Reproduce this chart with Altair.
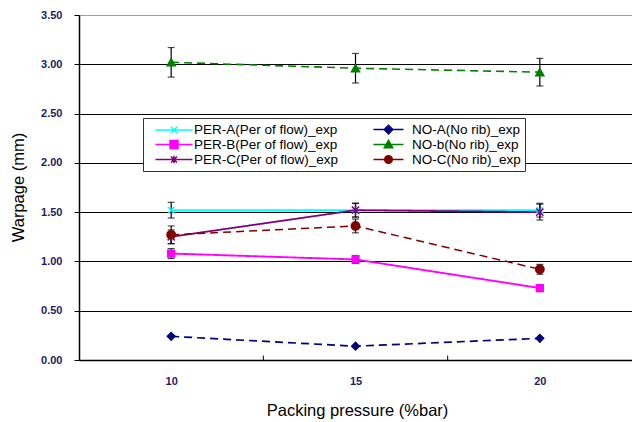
import altair as alt
import pandas as pd

# Series and their measured warpage at each packing pressure
pressure = [10, 15, 20]
series = [
    "PER-A(Per of flow)_exp",
    "PER-B(Per of flow)_exp",
    "PER-C(Per of flow)_exp",
    "NO-A(No rib)_exp",
    "NO-b(No rib)_exp",
    "NO-C(No rib)_exp",
]
warpage = {
    "PER-A(Per of flow)_exp": [1.52, 1.52, 1.52],
    "PER-B(Per of flow)_exp": [1.08, 1.02, 0.73],
    "PER-C(Per of flow)_exp": [1.25, 1.52, 1.50],
    "NO-A(No rib)_exp": [0.24, 0.14, 0.22],
    "NO-b(No rib)_exp": [3.02, 2.96, 2.92],
    "NO-C(No rib)_exp": [1.27, 1.36, 0.92],
}
error = {
    "PER-A(Per of flow)_exp": [0.08, 0.07, 0.07],
    "PER-B(Per of flow)_exp": [0.05, 0.04, 0.0],
    "PER-C(Per of flow)_exp": [0.07, 0.07, 0.08],
    "NO-A(No rib)_exp": [0.0, 0.0, 0.0],
    "NO-b(No rib)_exp": [0.15, 0.15, 0.14],
    "NO-C(No rib)_exp": [0.09, 0.07, 0.05],
}
colors = ["#00ffff", "#ff00ff", "#800080", "#000080", "#008000", "#800000"]
dashes = [[1, 0], [1, 0], [1, 0], [8, 5], [8, 5], [8, 5]]
widths = [2, 1.5, 1.5, 1.5, 1.5, 1.5]
tick_positions = [12.5, 17.5]

# Marker shapes for the plotted points
point_shapes = [
    "M-1,-1L1,1M-1,1L1,-1",
    "square",
    "M-1,-1L1,1M-1,1L1,-1M0,-1.3V1.3",
    "diamond",
    "triangle-up",
    "circle",
]
point_sizes = [40, 70, 40, 90, 80, 80]

# Legend symbols: a line segment with the marker on it, given in pixels
# relative to the legend symbol centre and converted to symbol units.
SYM_SIZE = 169            # 13 px symbol box
UNIT = 6.5                # px per symbol unit
CENTER = 7.5              # symbol centre from the entry origin (px)


def u(px):
    return round(px / UNIT, 3)


def legend_path(x0, x1, marker):
    xm = (x0 + x1) / 2 - CENTER
    a, b = u(x0 - CENTER), u(x1 - CENTER)
    line = f"M{a},0H{b}"
    r = u(4)
    m = u(xm)
    if marker == "x":
        k = u(3.2)
        mk = f"M{m - k},{-k}L{m + k},{k}M{m - k},{k}L{m + k},{-k}"
    elif marker == "star":
        k = u(3)
        mk = f"M{m - k},{-k}L{m + k},{k}M{m - k},{k}L{m + k},{-k}M{m},{-u(3.8)}V{u(3.8)}"
    elif marker == "square":
        mk = f"M{m - r},{-r}H{m + r}V{r}H{m - r}Z"
    elif marker == "diamond":
        d = u(4.3)
        mk = f"M{m},{-d}L{m + d},0L{m},{d}L{m - d},0Z"
    elif marker == "triangle":
        t = u(4.2)
        mk = f"M{m},{-t}L{m + t},{u(3.3)}H{m - t}Z"
    else:
        c = u(3.8)
        mk = f"M{m - c},0A{c},{c} 0 1,1 {m + c},0A{c},{c} 0 1,1 {m - c},0Z"
    return line + mk


# Legend is filled row by row in two columns: PER-* left, NO-* right
legend_order = [0, 3, 1, 4, 2, 5]
legend_markers = ["x", "square", "star", "diamond", "triangle", "circle"]
legend_spans = [(8.5, 45.5)] * 3 + [(8.5, 38.5)] * 3
legend_domain = [series[i] for i in legend_order]
legend_colors = [colors[i] for i in legend_order]
legend_shapes = [legend_path(*legend_spans[i], legend_markers[i]) for i in legend_order]

rows = []
for s in series:
    for p, v, e in zip(pressure, warpage[s], error[s]):
        rows.append({"pressure": p, "series": s, "warpage": v, "err": e})
df = pd.DataFrame(rows)

label_color = "#1c1c66"
font = "Liberation Sans"

x_enc = alt.X(
    "pressure:Q",
    scale=alt.Scale(domain=[7.5, 22.5], nice=False, zero=False),
    axis=alt.Axis(
        values=pressure,
        format="d",
        grid=False,
        ticks=False,
        domainColor="black",
        domainWidth=1.5,
        labelFont=font,
        labelFontSize=11,
        labelFontWeight="bold",
        labelColor=label_color,
        labelPadding=15,
        title="Packing pressure (%bar)",
        titleFont=font,
        titleFontSize=16.5,
        titleFontWeight="normal",
        titleColor="black",
        titleX=278,
        titleY=50,
        titleBaseline="middle",
    ),
)
y_enc = alt.Y(
    "warpage:Q",
    scale=alt.Scale(domain=[0, 3.5], nice=False),
    axis=alt.Axis(
        values=[0, 0.5, 1.0, 1.5, 2.0, 2.5, 3.0, 3.5],
        format=".2f",
        grid=True,
        gridColor={"condition": {"test": "datum.value === 3.5", "value": "#a0a0a0"}, "value": "black"},
        gridOpacity=1,
        gridWidth=1.2,
        domainColor="black",
        domainWidth=1.5,
        tickColor="black",
        tickSize=5,
        labelFont=font,
        labelFontSize=11,
        labelFontWeight="bold",
        labelColor=label_color,
        labelPadding=12,
        title="Warpage (mm)",
        titleFont=font,
        titleFontSize=16.5,
        titleFontWeight="normal",
        titleColor="black",
        titleX=-61,
        titleY=172,
        titleAngle=-90,
        titleBaseline="middle",
        titleAlign="center",
    ),
)

base = alt.Chart(df)

lines = base.mark_line().encode(
    x=x_enc,
    y=y_enc,
    color=alt.Color("series:N", scale=alt.Scale(domain=series, range=colors), legend=None),
    strokeDash=alt.StrokeDash("series:N", scale=alt.Scale(domain=series, range=dashes), legend=None),
    strokeWidth=alt.StrokeWidth("series:N", scale=alt.Scale(domain=series, range=widths), legend=None),
    detail="series:N",
)

err_df = base.transform_filter("datum.err > 0").transform_calculate(
    lo="datum.warpage - datum.err", hi="datum.warpage + datum.err"
)
err_rules = err_df.mark_rule(color="black", strokeWidth=1.2).encode(
    x="pressure:Q", y="lo:Q", y2="hi:Q"
)
cap_lo = err_df.mark_tick(color="black", orient="horizontal", size=7, thickness=1.2).encode(
    x="pressure:Q", y="lo:Q"
)
cap_hi = err_df.mark_tick(color="black", orient="horizontal", size=7, thickness=1.2).encode(
    x="pressure:Q", y="hi:Q"
)

points = base.mark_point(filled=True, strokeWidth=1.5, opacity=1).encode(
    x="pressure:Q",
    y="warpage:Q",
    shape=alt.Shape("series:N", scale=alt.Scale(domain=series, range=point_shapes), legend=None),
    fill=alt.Fill("series:N", scale=alt.Scale(domain=series, range=colors), legend=None),
    stroke=alt.Stroke("series:N", scale=alt.Scale(domain=series, range=colors), legend=None),
    size=alt.Size("series:N", scale=alt.Scale(domain=series, range=point_sizes), legend=None),
)

legend_cfg = alt.Legend(
    title=None,
    orient="none",
    legendX=64,
    legendY=103,
    columns=2,
    direction="horizontal",
    gridAlign="all",
    columnPadding=26,
    rowPadding=-2.5,
    padding=4,
    symbolOffset=0,
    symbolSize=SYM_SIZE,
    symbolStrokeWidth=1.5,
    symbolOpacity=1,
    labelFont=font,
    labelFontSize=13.5,
    labelColor="black",
    labelOffset=32,
    strokeColor="#333333",
    fillColor="white",
    labelLimit=300,
)

legend_layer = base.transform_filter("false").mark_point(filled=True, strokeWidth=1.5, opacity=1).encode(
    x="pressure:Q",
    y="warpage:Q",
    shape=alt.Shape("series:N", scale=alt.Scale(domain=legend_domain, range=legend_shapes), legend=legend_cfg),
    fill=alt.Fill("series:N", scale=alt.Scale(domain=legend_domain, range=legend_colors), legend=legend_cfg),
    stroke=alt.Stroke("series:N", scale=alt.Scale(domain=legend_domain, range=legend_colors), legend=legend_cfg),
)

ticks_df = pd.DataFrame({"pos": tick_positions, "y0": [0, 0], "y1": [0.045, 0.045]})
axis_ticks = alt.Chart(ticks_df).mark_rule(color="black", strokeWidth=1).encode(
    x="pos:Q", y="y0:Q", y2="y1:Q"
)

chart = (
    alt.layer(lines, err_rules, cap_lo, cap_hi, points, axis_ticks, legend_layer)
    .resolve_scale(shape="independent", fill="independent", stroke="independent")
    .properties(
        width=553,
        height=345,
        padding={"left": 79, "top": 15, "right": 0, "bottom": 62},
        autosize=alt.AutoSizeParams(type="none"),
        background="white",
    )
    .configure_view(stroke=None)
)

chart.save("out.html", embed_options={"renderer": "svg", "actions": False})
